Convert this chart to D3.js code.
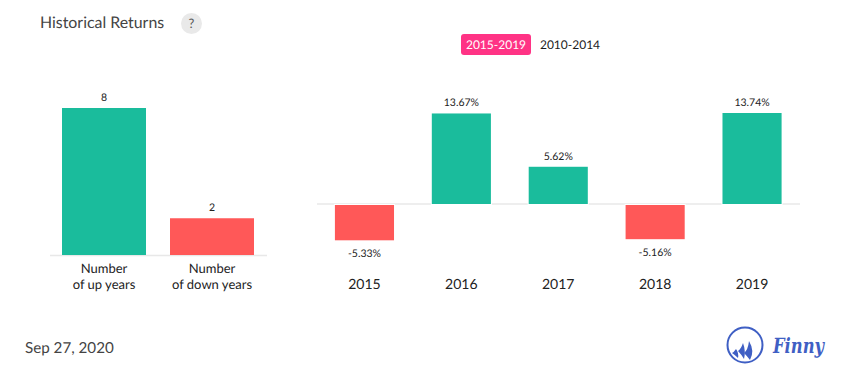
<!DOCTYPE html>
<html><head><meta charset="utf-8">
<script src="https://cdn.jsdelivr.net/npm/d3@7/dist/d3.min.js"></script>
<style>html,body{margin:0;padding:0;background:#fff}svg{display:block;font-family:Lato,sans-serif;text-rendering:geometricPrecision}</style>
</head><body><svg id="c" width="855" height="382"></svg>
<script>
const countCategories = ["up", "down"];
const countValues = [8, 2];
const countLabels = [["Number", "of up years"], ["Number", "of down years"]];
const years = ["2015", "2016", "2017", "2018", "2019"];
const returns = [-5.33, 13.67, 5.62, -5.16, 13.74];
const periods = ["2015-2019", "2010-2014"];
const GREEN = "#1abc9c", RED = "#ff5858", AXIS = "#e8e8e8";

const svg = d3.select("#c");
const T = (x, y, s, size, fill, anchor = "middle") => svg.append("text").attr("x", x).attr("y", y)
  .attr("font-size", size).attr("fill", fill).attr("text-anchor", anchor).text(s);

// Header
T(40, 28, "Historical Returns", 15.9, "#444", "start");
svg.append("circle").attr("cx", 191.5).attr("cy", 23.5).attr("r", 10.5).attr("fill", "#e9e9e9");
T(191.5, 28, "?", 13, "#555");

// Period switch
svg.append("rect").attr("x", 461).attr("y", 34).attr("width", 70).attr("height", 21).attr("rx", 3).attr("fill", "#ff3385");
T(496, 49, periods[0], 12, "#fff");
T(570, 49, periods[1], 12, "#1a1a1a");

// Left chart
const xL = d3.scaleBand().domain(countCategories).range([50, 266]).paddingInner(24 / 108).paddingOuter(12 / 108);
const yL = d3.scaleLinear().domain([0, 8]).range([255, 108]);
svg.append("line").attr("x1", 50).attr("x2", 267).attr("y1", yL(0) + .5).attr("y2", yL(0) + .5).attr("stroke", AXIS).attr("stroke-width", 1.5);
countCategories.forEach((c, i) => {
  const x = xL(c), w = xL.bandwidth(), cx = x + w / 2;
  svg.append("rect").attr("x", x).attr("width", w).attr("y", yL(countValues[i])).attr("height", yL(0) - yL(countValues[i]))
    .attr("fill", i === 0 ? GREEN : RED);
  T(cx, yL(countValues[i]) - 7, countValues[i], 10.5, "#222");
  countLabels[i].forEach((l, j) => T(cx, 273 + j * 16, l, 13, "#222"));
});

// Right chart
const xR = d3.scaleBand().domain(years).range([316.5, 800]).paddingInner(0.39).paddingOuter(0.19);
const yR = d3.scaleLinear().domain([0, 13.74]).range([204, 113]);
svg.append("line").attr("x1", 317).attr("x2", 800).attr("y1", 204).attr("y2", 204).attr("stroke", AXIS).attr("stroke-width", 1.5);
years.forEach((yr, i) => {
  const v = returns[i], x = xR(yr), w = xR.bandwidth(), cx = x + w / 2;
  svg.append("rect").attr("x", x).attr("width", w)
    .attr("y", v >= 0 ? yR(v) : yR(0) + 1).attr("height", Math.abs(yR(v) - yR(0)))
    .attr("fill", v >= 0 ? GREEN : RED).attr("stroke", "#fff").attr("stroke-width", 2).attr("paint-order", "stroke");
  T(cx, v >= 0 ? yR(v) - 7 : yR(v) + 18, v.toFixed(2) + "%", 10.5, "#222");
  T(cx, 289, yr, 14, "#222");
});

// Footer
T(25, 353, "Sep 27, 2020", 15.2, "#444", "start");

// Logo
const BLUE = "#3f5fc4";
svg.append("circle").attr("cx", 745).attr("cy", 345).attr("r", 17.5).attr("fill", "none").attr("stroke", BLUE).attr("stroke-width", 2);
const sails = ["M736 349 Q734 352 732 353 Q735 355 738 358 Q739 353 736 349Z",
  "M743 343 Q741 349 738 351 Q741 354 744 359 Q746 351 743 343Z",
  "M749 341 Q748 350 744 353 Q747 356 750 360 Q755 351 749 341Z"];
sails.forEach(d => svg.append("path").attr("d", d).attr("fill", BLUE));
T(773, 353, "Finny", 21, BLUE, "start").attr("font-family", "'DejaVu Serif',serif").attr("font-style", "italic").attr("font-weight", "bold").attr("textLength", 51).attr("lengthAdjust", "spacingAndGlyphs");
</script></body></html>
